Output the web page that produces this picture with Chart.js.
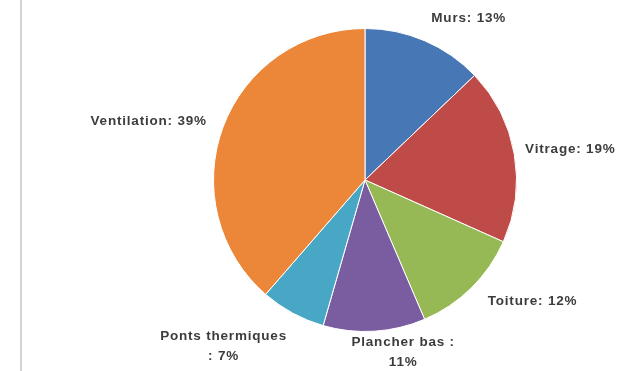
<!DOCTYPE html>
<html>
<head>
<meta charset="utf-8">
<script src="https://cdn.jsdelivr.net/npm/chart.js@4/dist/chart.umd.min.js"></script>
<style>
  html, body { margin: 0; padding: 0; background: #ffffff; }
  #wrap { position: relative; width: 623px; height: 371px; }
  #rule { position: absolute; left: 20px; top: 0; width: 2px; height: 371px; background: #d4d4d4; }
  canvas { position: absolute; left: 0; top: 0; }
</style>
</head>
<body>
<div id="wrap">
  <div id="rule"></div>
  <canvas id="c" width="623" height="371"></canvas>
</div>
<script>
// Heat loss breakdown of a house, in percent
const categories = ['Murs', 'Vitrage', 'Toiture', 'Plancher bas ', 'Ponts thermiques ', 'Ventilation'];
const shares = [13, 19, 12, 11, 7, 39];
const sliceColors = ['#4777b5', '#bf4b48', '#97b955', '#7a5ca0', '#48a7c4', '#ec873a'];

// Small hand offsets for each label box (px), to keep them clear of the pie
const labelNudge = [[2, -1], [-1, -3], [8, -5], [28, -11], [0, 3], [-5, -1]];

const labelFont = 'bold 13.5px "Liberation Sans", Arial, sans-serif';

function wrapWords(ctx, text, maxWidth) {
  const words = text.split(' ');
  const lines = [];
  let cur = '';
  for (const w of words) {
    const trial = cur ? cur + ' ' + w : w;
    if (cur && ctx.measureText(trial).width > maxWidth) {
      lines.push(cur);
      cur = w;
    } else {
      cur = trial;
    }
  }
  if (cur) lines.push(cur);
  return lines;
}

const outsideLabels = {
  id: 'outsideLabels',
  afterDatasetsDraw(chart) {
    const ctx = chart.ctx;
    const meta = chart.getDatasetMeta(0);
    const gap = 12;
    const lineH = 20;
    ctx.save();
    ctx.font = labelFont;
    ctx.fillStyle = '#3c3c3c';
    ctx.letterSpacing = '0.8px';
    meta.data.forEach((arc, i) => {
      const p = arc.getProps(['x', 'y', 'startAngle', 'endAngle', 'outerRadius'], true);
      const mid = (p.startAngle + p.endAngle) / 2;
      const c = Math.cos(mid), s = Math.sin(mid);
      const ax = p.x + c * (p.outerRadius + gap);
      const ay = p.y + s * (p.outerRadius + gap);
      const text = chart.data.labels[i] + ': ' + chart.data.datasets[0].data[i] + '%';
      const lines = wrapWords(ctx, text, 130);
      const blockH = lines.length * lineH;
      let top;
      if (s < -0.5) top = ay - blockH;
      else if (s > 0.5) top = ay;
      else top = ay - blockH / 2;
      const nudge = labelNudge[i] || [0, 0];
      const widths = lines.map(l => ctx.measureText(l).width);
      const boxW = Math.max(...widths);
      let left;
      if (c > 0.15) left = ax;
      else if (c < -0.15) left = ax - boxW;
      else left = ax - boxW / 2;
      left += nudge[0];
      top += nudge[1];
      ctx.textBaseline = 'middle';
      ctx.textAlign = 'center';
      lines.forEach((l, k) => {
        ctx.fillText(l, left + boxW / 2, top + lineH * k + lineH / 2);
      });
    });
    ctx.restore();
  }
};

new Chart(document.getElementById('c'), {
  type: 'pie',
  data: {
    labels: categories,
    datasets: [{
      data: shares,
      backgroundColor: sliceColors,
      borderColor: '#ffffff',
      borderWidth: 1
    }]
  },
  options: {
    responsive: false,
    animation: false,
    layout: { padding: { left: 213, right: 106, top: 28, bottom: 39 } },
    plugins: {
      legend: { display: false },
      tooltip: { enabled: false }
    }
  },
  plugins: [outsideLabels]
});
</script>
</body>
</html>
